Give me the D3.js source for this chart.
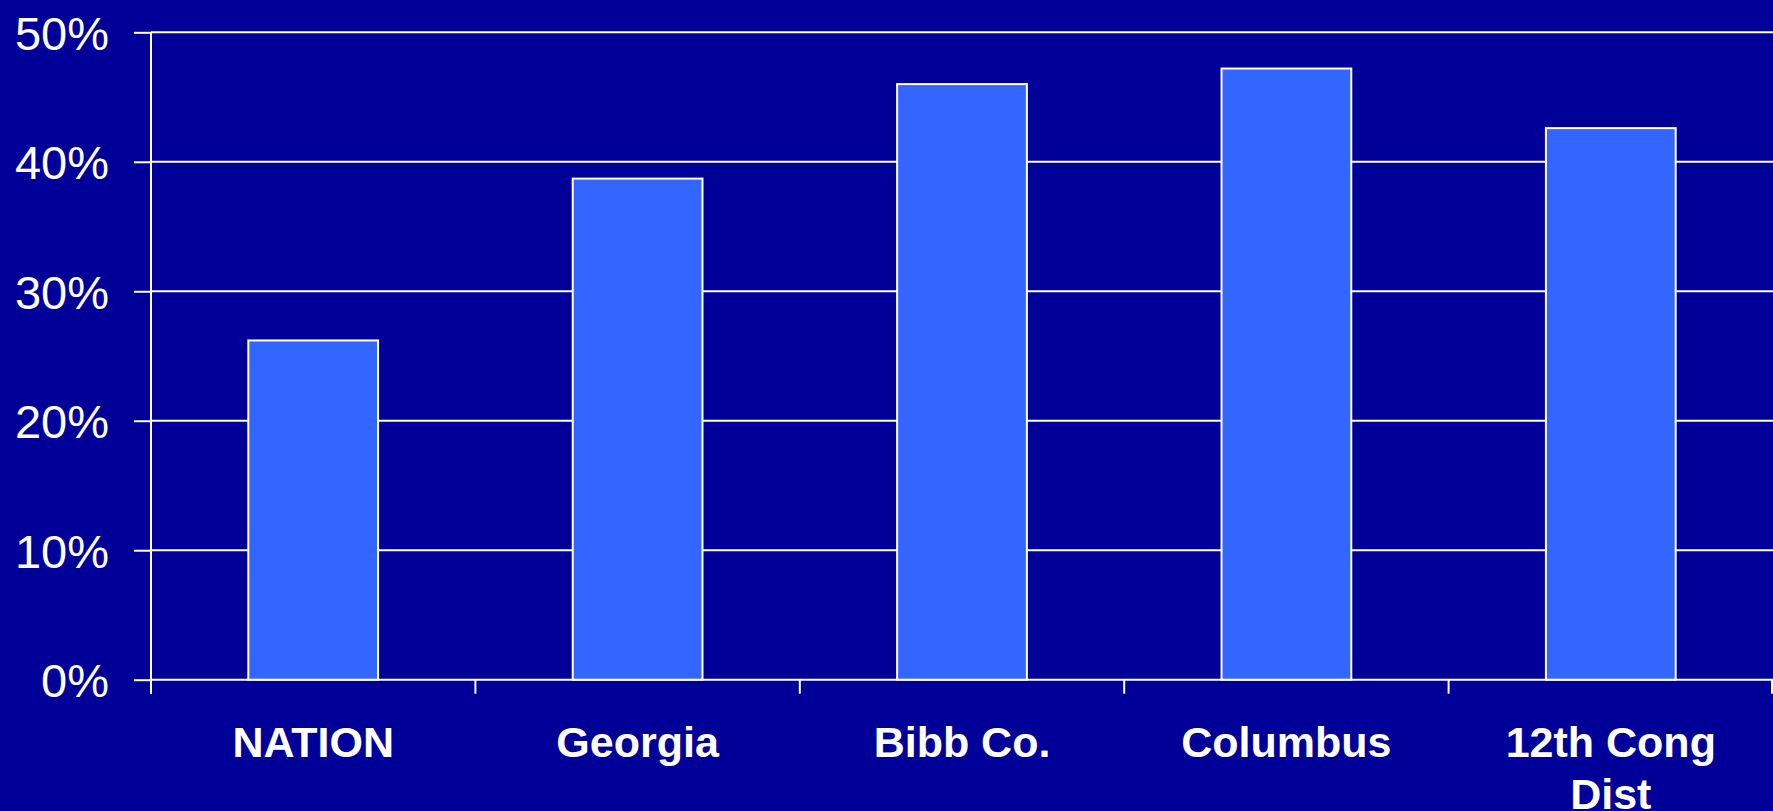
<!DOCTYPE html>
<html lang="en">

<head>
    <meta charset="UTF-8">
    <title>Chart</title>
    <script src="https://cdnjs.cloudflare.com/ajax/libs/d3/7.9.0/d3.min.js"></script>
    <style>
        html, body { margin: 0; padding: 0; background: #000099; overflow: hidden; }
    </style>
</head>

<body>
    <svg id="chart" width="1773" height="811"></svg>

    <script>
        // data
        var categories = ["NATION", "Georgia", "Bibb Co.", "Columbus", "12th Cong Dist"];
        var labelLines = [["NATION"], ["Georgia"], ["Bibb Co."], ["Columbus"], ["12th Cong", "Dist"]];
        var values = [0.262, 0.387, 0.460, 0.472, 0.426];
        var yTicks = [0, 0.1, 0.2, 0.3, 0.4, 0.5];

        var width = 1773, height = 811;
        var margin = { top: 32.3, right: 0, bottom: 131.3, left: 151 };

        var svg = d3.select("#chart");

        svg.append("rect")
            .attr("width", width)
            .attr("height", height)
            .attr("fill", "#000099");

        var x = d3.scaleBand()
            .domain(categories)
            .range([margin.left, width - margin.right])
            .paddingInner(0.6)
            .paddingOuter(0.3);

        // plain bands, for the tick marks between categories
        var xCat = d3.scaleBand()
            .domain(categories)
            .range([margin.left, width - margin.right])
            .padding(0);

        var y = d3.scaleLinear()
            .domain([0, 0.5])
            .range([height - margin.bottom, margin.top]);

        // gridlines
        svg.append("g")
            .selectAll("line")
            .data(yTicks)
            .enter().append("line")
            .attr("x1", margin.left)
            .attr("x2", width)
            .attr("y1", function (d) { return y(d); })
            .attr("y2", function (d) { return y(d); })
            .attr("stroke", "white")
            .attr("stroke-width", 2);

        // bars
        svg.append("g")
            .selectAll("rect")
            .data(values)
            .enter().append("rect")
            .attr("x", function (d, i) { return x(categories[i]); })
            .attr("y", function (d) { return y(d); })
            .attr("width", x.bandwidth())
            .attr("height", function (d) { return y(0) - y(d); })
            .attr("fill", "#3366FF")
            .attr("stroke", "white")
            .attr("stroke-width", 2);

        // y axis
        var yAxis = d3.axisLeft(y)
            .tickValues(yTicks)
            .tickFormat(d3.format(".0%"))
            .tickSize(17)
            .tickPadding(25);

        var gy = svg.append("g")
            .attr("transform", "translate(" + margin.left + ",0)")
            .call(yAxis);

        gy.select(".domain").remove();
        gy.selectAll(".tick line").attr("stroke", "white").attr("stroke-width", 2);
        gy.selectAll(".tick text")
            .attr("fill", "white")
            .attr("font-family", "'Liberation Sans', Arial, sans-serif")
            .attr("font-size", 47)
            .attr("dy", "0.36em");

        svg.append("line")
            .attr("x1", margin.left)
            .attr("x2", margin.left)
            .attr("y1", y(0.5))
            .attr("y2", y(0) + 14)
            .attr("stroke", "white")
            .attr("stroke-width", 2);

        // x tick marks between the categories
        var boundaries = categories.map(function (c) { return xCat(c); }).concat([xCat(categories[categories.length - 1]) + xCat.bandwidth()]);
        svg.append("g")
            .selectAll("line")
            .data(boundaries)
            .enter().append("line")
            .attr("x1", function (d) { return Math.min(d, width - 1); })
            .attr("x2", function (d) { return Math.min(d, width - 1); })
            .attr("y1", y(0))
            .attr("y2", y(0) + 14)
            .attr("stroke", "white")
            .attr("stroke-width", 2);

        // category labels
        var labels = svg.append("g")
            .selectAll("text")
            .data(categories)
            .enter().append("text")
            .attr("x", function (d) { return xCat(d) + xCat.bandwidth() / 2; })
            .attr("y", 756.7)
            .attr("text-anchor", "middle")
            .attr("fill", "white")
            .attr("font-family", "'Liberation Sans', Arial, sans-serif")
            .attr("font-weight", "bold")
            .attr("font-size", 43);

        labels.each(function (d, i) {
            var t = d3.select(this);
            labelLines[i].forEach(function (line, j) {
                t.append("tspan")
                    .attr("x", xCat(d) + xCat.bandwidth() / 2)
                    .attr("dy", j === 0 ? 0 : 52)
                    .text(line);
            });
        });
    </script>
</body>

</html>
